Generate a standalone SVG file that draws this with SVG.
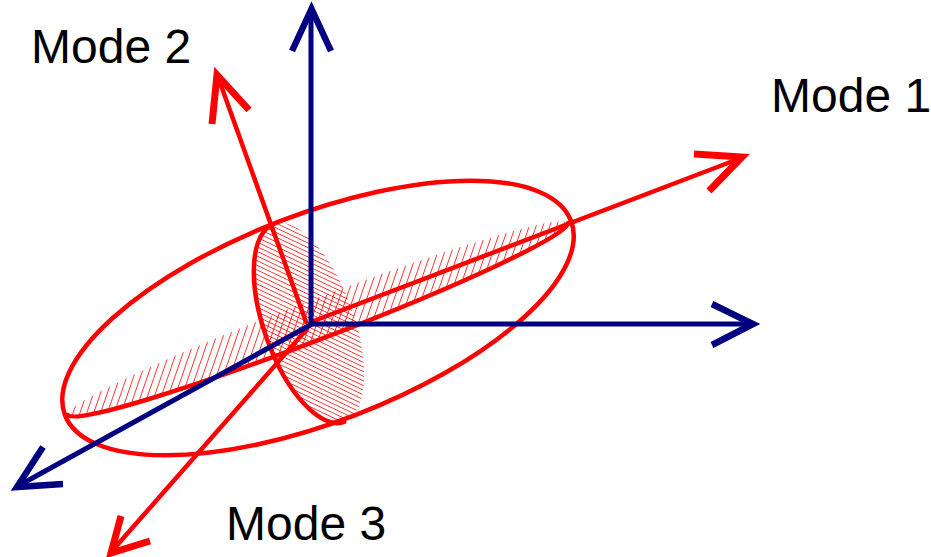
<svg xmlns="http://www.w3.org/2000/svg" width="931" height="557" viewBox="0 0 931 557">
<style>
.red{stroke:#ff0000;fill:none;stroke-width:4.5;stroke-linecap:round}
.blue{stroke:#000080;fill:none;stroke-width:5}
.redhead{stroke:#ff0000;fill:none;stroke-width:7;stroke-linejoin:miter;stroke-miterlimit:10}
.bluehead{stroke:#000080;fill:none;stroke-width:6.5;stroke-linejoin:miter;stroke-miterlimit:10}
.label{font-family:"Liberation Sans",Arial,sans-serif;font-size:48px;fill:#000}
</style>
<defs>
<pattern id="hatchA" width="6.5" height="6.5" patternUnits="userSpaceOnUse" patternTransform="rotate(40)">
<line x1="0" y1="0" x2="0" y2="6.5" stroke="#ff0000" stroke-width="1.5"/>
</pattern>
<pattern id="hatchB" width="4.2" height="4.2" patternUnits="userSpaceOnUse" patternTransform="rotate(-45)">
<line x1="0" y1="0" x2="0" y2="4.2" stroke="#ff0000" stroke-width="1.4"/>
</pattern>
</defs>

<g id="flat-ellipse">
<ellipse cx="0" cy="0" rx="268" ry="20" fill="url(#hatchA)" transform="translate(318 319) rotate(-21)"/>
<path class="red" d="M 67.8 415 A 268 20 -21 0 0 568.2 223"/>
</g>

<g id="vertical-ellipse">
<ellipse cx="0" cy="0" rx="45" ry="105" fill="url(#hatchB)" transform="translate(309 323) rotate(-19.6)"/>
<path class="red" d="M 273.8 224 A 45 105 -19.6 0 0 344.2 422"/>
</g>

<g id="big-ellipse">
<ellipse class="red" cx="0" cy="0" rx="271" ry="104" transform="translate(318 318) rotate(-21)"/>
</g>

<g id="connectors">
<g id="mode1-axis">
<line class="red" x1="311" y1="322" x2="741" y2="158"/>
<polyline class="redhead" points="694,154 742,157 709,191"/>
</g>
<g id="mode2-axis">
<line class="red" x1="306" y1="322" x2="218" y2="77"/>
<polyline class="redhead" points="212,124 217,75 249,110"/>
</g>
<g id="mode3-axis">
<line class="red" x1="307" y1="329" x2="112" y2="551"/>
<polyline class="redhead" points="121,516 111,553 150,541"/>
</g>
<g id="blue-axes">
<line class="blue" x1="311" y1="326" x2="311" y2="10"/>
<polyline class="bluehead" points="292,51 311.5,9 331,51"/>
<line class="blue" x1="309" y1="324" x2="752" y2="324"/>
<polyline class="bluehead" points="712,304 753,324 712,345"/>
<line class="blue" x1="312" y1="324" x2="18" y2="486"/>
<polyline class="bluehead" points="43,447 17,487 63,484"/>
</g>
</g>

<g id="label-mode1"><text class="label" x="771" y="112">Mode 1</text></g>
<g id="label-mode2"><text class="label" x="31" y="63">Mode 2</text></g>
<g id="label-mode3"><text class="label" x="226" y="540">Mode 3</text></g>
</svg>
